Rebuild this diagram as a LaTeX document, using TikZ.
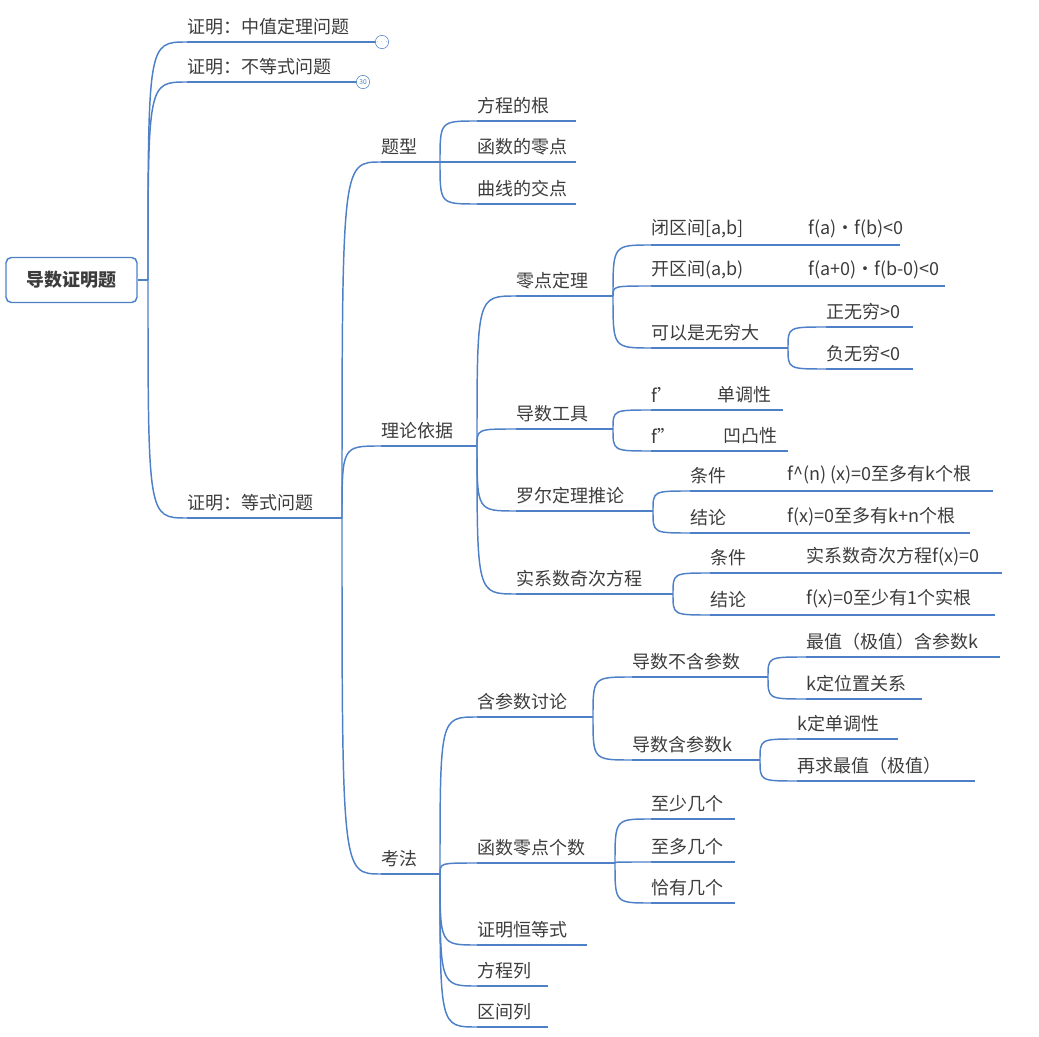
\documentclass[tikz,border=0pt]{standalone}
\usepackage{fontspec}
\setmainfont{Noto Sans CJK SC}
\usetikzlibrary{calc}

\definecolor{linkblue}{RGB}{78,128,200}
\definecolor{textgray}{RGB}{60,60,60}

\tikzset{
  branch/.style={draw=linkblue, line width=1.1pt},
  topictext/.style={anchor=south west, inner sep=0pt, text=textgray, font=\fontsize{13.5}{14}\selectfont},
}

% underline topic: name, x start, x end, y of line, text, second text x, second text
\newcommand{\topic}[7]{%
  \coordinate (#1-s) at (#2,#4);
  \coordinate (#1-e) at (#3,#4);
  \draw[branch] (#1-s) -- (#1-e);
  \node[topictext] (#1) at (#2,#4-7) {#5};
  \node[topictext] (#1-b) at (#6,#4-7) {#7};
}
% curved link from a junction to a topic
\newcommand{\link}[2]{\draw[branch] (#1) .. controls (#1 |- #2-s) .. (#2-s);}

\begin{document}
\begin{tikzpicture}[x=0.75pt,y=-0.75pt]
	\useasboundingbox (0,0) rectangle (1039,1037);

	% root
	\node[draw=linkblue, line width=1.1pt, rounded corners=4pt, minimum width=131*0.75pt, minimum height=45*0.75pt,
	      text=textgray, font=\fontsize{13.5}{14}\selectfont\bfseries] (root) at (71.5,280) {导数证明题};
	\coordinate (rootj) at (148,280);
	\draw[branch] (root.east) -- (rootj);

	% first level
	\topic{zhong}{187}{376}{42}{证明：中值定理问题}{187}{}
	\topic{budeng}{187}{357}{82}{证明：不等式问题}{187}{}
	\topic{deng}{187}{340}{518}{证明：等式问题}{187}{}
	\node[draw=linkblue, circle, inner sep=0pt, minimum size=10pt, font=\fontsize{5}{5}\selectfont, text=linkblue, fill=white] (fold1) at (382,42) {$\cdots$};
	\node[draw=linkblue, circle, inner sep=0pt, minimum size=10pt, font=\fontsize{5}{5}\selectfont, text=linkblue, fill=white] (fold2) at (363,82) {30};
	\link{rootj}{zhong}
	\link{rootj}{budeng}
	\link{rootj}{deng}

	% second level
	\coordinate (dengj) at (342,518);
	\draw[branch] (deng-e) -- (dengj);
	\topic{tixing}{381}{437}{162}{题型}{381}{}
	\topic{lilun}{381}{474}{446}{理论依据}{381}{}
	\topic{kaofa}{381}{437}{874}{考法}{381}{}
	\link{dengj}{tixing}
	\link{dengj}{lilun}
	\link{dengj}{kaofa}

	% tixing
	\coordinate (tixingj) at (440,162);
	\draw[branch] (tixing-e) -- (tixingj);
	\topic{gen}{477}{576}{121}{方程的根}{477}{}
	\topic{lingdian}{477}{576}{162}{函数的零点}{477}{}
	\topic{jiaodian}{477}{576}{204}{曲线的交点}{477}{}
	\link{tixingj}{gen}
	\link{tixingj}{lingdian}
	\link{tixingj}{jiaodian}

	% lilun
	\coordinate (lilunj) at (477,446);
	\draw[branch] (lilun-e) -- (lilunj);
	\topic{ldt}{516}{610}{296}{零点定理}{516}{}
	\topic{dsgj}{516}{610}{429}{导数工具}{516}{}
	\topic{luoer}{516}{650}{511}{罗尔定理推论}{516}{}
	\topic{shixi}{516}{670}{594}{实系数奇次方程}{516}{}
	\link{lilunj}{ldt}
	\link{lilunj}{dsgj}
	\link{lilunj}{luoer}
	\link{lilunj}{shixi}

	% ldt
	\coordinate (ldtj) at (613,296);
	\draw[branch] (ldt-e) -- (ldtj);
	\topic{bi}{651}{783}{245}{闭区间[a,b]}{651}{}
	\topic{kai}{651}{783}{286}{开区间(a,b)}{651}{}
	\topic{wq}{651}{785}{348}{可以是无穷大}{651}{}
	\link{ldtj}{bi}
	\link{ldtj}{kai}
	\link{ldtj}{wq}
	\topic{bif}{783}{900}{245}{}{808}{f(a)·f(b)<0}
	\topic{kaif}{783}{945}{286}{}{808}{f(a+0)·f(b-0)<0}
	\coordinate (wqj) at (788,348);
	\draw[branch] (wq-e) -- (wqj);
	\topic{zheng}{826}{913}{327}{正无穷>0}{826}{}
	\topic{fu}{826}{913}{369}{负无穷<0}{826}{}
	\link{wqj}{zheng}
	\link{wqj}{fu}

	% dsgj
	\coordinate (dsgjj) at (613,429);
	\draw[branch] (dsgj-e) -- (dsgjj);
	\topic{f1}{651}{783}{410}{f'}{717}{单调性}
	\topic{f2}{651}{788}{451}{f''}{723}{凹凸性}
	\link{dsgjj}{f1}
	\link{dsgjj}{f2}

	% luoer
	\coordinate (luoerj) at (653,511);
	\draw[branch] (luoer-e) -- (luoerj);
	\topic{ltj}{690}{993}{491}{条件}{787}{f\^{}(n) (x)=0至多有k个根}
	\topic{ljl}{690}{970}{533}{结论}{787}{f(x)=0至多有k+n个根}
	\link{luoerj}{ltj}
	\link{luoerj}{ljl}

	% shixi
	\coordinate (shixij) at (673,594);
	\draw[branch] (shixi-e) -- (shixij);
	\topic{stj}{710}{1002}{573}{条件}{806}{实系数奇次方程f(x)=0}
	\topic{sjl}{710}{995}{615}{结论}{806}{f(x)=0至少有1个实根}
	\link{shixij}{stj}
	\link{shixij}{sjl}

	% kaofa
	\coordinate (kaofaj) at (440,874);
	\draw[branch] (kaofa-e) -- (kaofaj);
	\topic{hancan}{477}{590}{717}{含参数讨论}{477}{}
	\topic{geshu}{477}{612}{863}{函数零点个数}{477}{}
	\topic{heng}{477}{587}{945}{证明恒等式}{477}{}
	\topic{fcl}{477}{548}{986}{方程列}{477}{}
	\topic{qjl}{477}{548}{1027}{区间列}{477}{}
	\link{kaofaj}{hancan}
	\link{kaofaj}{geshu}
	\link{kaofaj}{heng}
	\link{kaofaj}{fcl}
	\link{kaofaj}{qjl}

	% hancan
	\coordinate (hancanj) at (593,717);
	\draw[branch] (hancan-e) -- (hancanj);
	\topic{buhan}{632}{765}{677}{导数不含参数}{632}{}
	\topic{hank}{632}{757}{760}{导数含参数k}{632}{}
	\link{hancanj}{buhan}
	\link{hancanj}{hank}
	\coordinate (buhanj) at (768,677);
	\draw[branch] (buhan-e) -- (buhanj);
	\topic{zuizhi}{806}{1000}{657}{最值（极值）含参数k}{806}{}
	\topic{weizhi}{806}{922}{699}{k定位置关系}{806}{}
	\link{buhanj}{zuizhi}
	\link{buhanj}{weizhi}
	\coordinate (hankj) at (760,760);
	\draw[branch] (hank-e) -- (hankj);
	\topic{dandiao}{797}{898}{739}{k定单调性}{797}{}
	\topic{zaiqiu}{797}{975}{781}{再求最值（极值）}{797}{}
	\link{hankj}{dandiao}
	\link{hankj}{zaiqiu}

	% geshu
	\coordinate (geshuj) at (615,863);
	\draw[branch] (geshu-e) -- (geshuj);
	\topic{zhishao}{651}{735}{819}{至少几个}{651}{}
	\topic{zhiduo}{651}{735}{862}{至多几个}{651}{}
	\topic{qia}{651}{735}{903}{恰有几个}{651}{}
	\link{geshuj}{zhishao}
	\link{geshuj}{zhiduo}
	\link{geshuj}{qia}
\end{tikzpicture}
\end{document}
